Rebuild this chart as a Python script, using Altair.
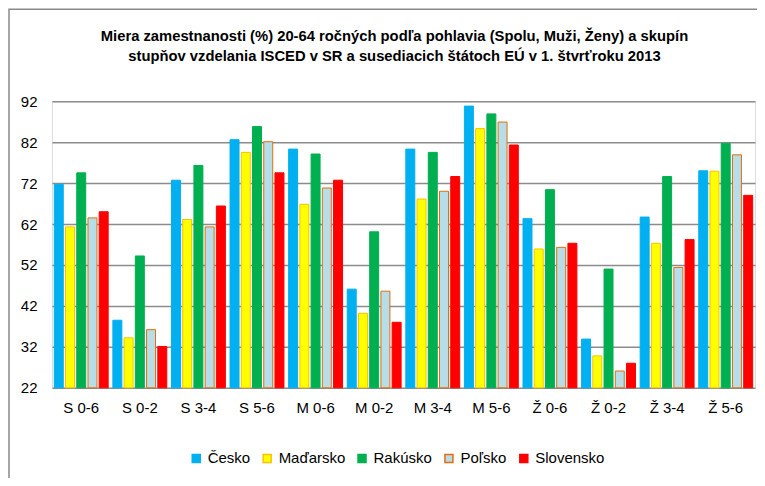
import altair as alt
import pandas as pd

categories = ["S 0-6", "S 0-2", "S 3-4", "S 5-6", "M 0-6", "M 0-2", "M 3-4", "M 5-6",
              "Ž 0-6", "Ž 0-2", "Ž 3-4", "Ž 5-6"]
countries = ["Česko", "Maďarsko", "Rakúsko", "Poľsko", "Slovensko"]
cesko = [71.7, 38.5, 72.7, 82.6, 80.3, 46.1, 80.3, 90.8, 63.3, 33.9, 63.7, 75.0]
madarsko = [61.3, 34.2, 63.1, 79.5, 66.8, 40.2, 68.1, 85.3, 55.9, 29.8, 57.3, 74.9]
rakusko = [74.5, 54.2, 76.3, 85.8, 79.1, 60.1, 79.5, 88.9, 70.4, 51.0, 73.6, 81.7]
polsko = [63.5, 36.2, 61.3, 82.1, 70.8, 45.6, 70.0, 86.9, 56.3, 26.1, 51.4, 78.9]
slovensko = [65.0, 32.1, 66.4, 74.5, 72.7, 38.0, 73.6, 81.3, 57.3, 28.0, 58.2, 69.0]
y_ticks = [22, 32, 42, 52, 62, 72, 82, 92]

fills = ["#00B0F0", "#FFFF00", "#00B050", "#B7DDE8", "#FF0000"]
strokes = ["#00B0F0", "#FFC000", "#00B050", "#E46C0A", "#FF0000"]

series = [cesko, madarsko, rakusko, polsko, slovensko]
rows = []
for country, vals in zip(countries, series):
    for cat, v in zip(categories, vals):
        rows.append({"kat": cat, "krajina": country, "hodnota": v})
df = pd.DataFrame(rows)

FONT = "Liberation Sans, Arial"

bars = alt.Chart(df).mark_bar(strokeWidth=1).encode(
    x=alt.X("kat:N", sort=categories, title=None,
            scale=alt.Scale(paddingInner=0.08, paddingOuter=0.04),
            axis=alt.Axis(labelAngle=0, domain=False, ticks=False, labelPadding=13,
                          labelFont=FONT, labelFontSize=15, labelColor="black")),
    xOffset=alt.XOffset("krajina:N", sort=countries,
                        scale=alt.Scale(domain=countries, paddingInner=0.2, paddingOuter=0)),
    y=alt.Y("hodnota:Q", title=None,
            scale=alt.Scale(domain=[22, 92], nice=False, zero=False),
            axis=alt.Axis(values=y_ticks, domain=False, ticks=False, labelPadding=15,
                          labelFont=FONT, labelFontSize=15, labelColor="black",
                          grid=True, gridColor="#8c8c8c", gridWidth=1.5)),
    y2=alt.datum(22),
    fill=alt.Fill("krajina:N", sort=countries,
                  scale=alt.Scale(domain=countries, range=fills),
                  legend=alt.Legend(title=None, orient="none", legendX=137, legendY=350,
                                    direction="horizontal", columns=5, columnPadding=9,
                                    symbolType="square", symbolSize=64, symbolStrokeWidth=1.5,
                                    labelFont=FONT, labelFontSize=15, labelColor="black",
                                    labelOffset=4, padding=0)),
    stroke=alt.Stroke("krajina:N", sort=countries,
                      scale=alt.Scale(domain=countries, range=strokes), legend=None),
)

border = alt.Chart(pd.DataFrame({"a": [0]})).mark_rect(
    filled=False, stroke="#8a8a8a", strokeWidth=1.5
).encode(x=alt.value(-43), x2=alt.value(760), y=alt.value(-92), y2=alt.value(480))

chart = alt.layer(border, bars).properties(
    width=704, height=287,
    autosize="none",
    padding={"left": 44, "top": 93, "right": 2, "bottom": 90},
    title=alt.TitleParams(
        text=["Miera zamestnanosti (%) 20-64 ročných podľa pohlavia (Spolu, Muži, Ženy) a skupín",
              "stupňov vzdelania ISCED v SR a susediacich štátoch EÚ v 1. štvrťroku 2013"],
        font=FONT, fontSize=14.8, fontWeight="bold", color="black",
        anchor="middle", dx=-9, offset=0, dy=55, lineHeight=20),
).configure_view(stroke=None).configure(background="white")

chart.save("out.html", embed_options={"renderer": "svg", "actions": False})
